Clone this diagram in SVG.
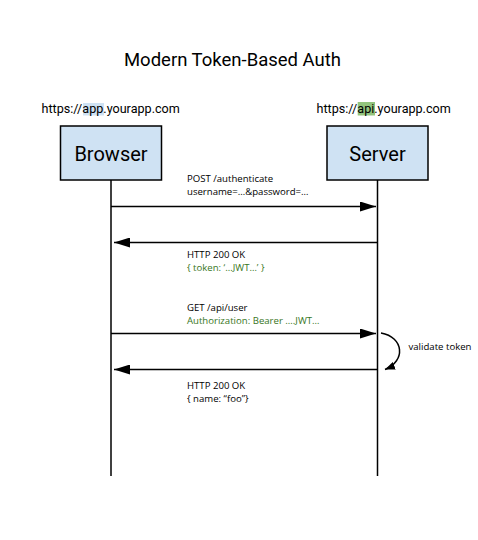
<svg xmlns="http://www.w3.org/2000/svg" width="478" height="540" viewBox="0 0 478 540">
<style>
.title{font-family:Roboto,"Liberation Sans",sans-serif;font-size:18.5px;fill:#000}
.url{font-family:Roboto,"Liberation Sans",sans-serif;font-size:12.6px;fill:#000}
.box{fill:#cfe2f3;stroke:#000;stroke-width:1.5}
.boxt{font-family:Roboto,"Liberation Sans",sans-serif;font-size:20px;fill:#000;text-anchor:middle}
.life{stroke:#000;stroke-width:1.5;fill:none}
.msg{stroke:#000;stroke-width:1.5;fill:none}
.lbl{font-family:"Open Sans","Liberation Sans",sans-serif;font-size:9.6px;fill:#000}
.grn{fill:#38761d}
</style>
<defs>
<marker id="ah" viewBox="0 0 16 10" refX="16" refY="5" markerWidth="16" markerHeight="10" markerUnits="userSpaceOnUse" orient="auto">
<path d="M0,0 L16,5 L0,10 Z" fill="#000"/>
</marker>
<marker id="ah2" viewBox="0 0 10 8" refX="10" refY="4" markerWidth="10" markerHeight="8" markerUnits="userSpaceOnUse" orient="auto">
<path d="M0,0 L10,4 L0,8 Z" fill="#000"/>
</marker>
</defs>
<rect width="478" height="540" fill="#fff"/>
<text class="title" x="232.5" y="66" text-anchor="middle">Modern Token-Based Auth</text>
<g id="browser">
<rect x="83" y="103" width="21" height="12.5" fill="#cfe2f3"/>
<text class="url" x="41.5" y="113">https://app.yourapp.com</text>
<rect class="box" x="60.5" y="126" width="101" height="54"/>
<text class="boxt" x="111" y="160.5">Browser</text>
</g>
<g id="server">
<rect x="357.7" y="102" width="17.3" height="13.5" fill="#93c47d"/>
<text class="url" x="316.5" y="113">https://api.yourapp.com</text>
<rect class="box" x="327" y="126" width="101" height="54"/>
<text class="boxt" x="377.5" y="160.5">Server</text>
</g>
<g id="connectors">
<line class="life" x1="111" y1="180" x2="111" y2="476"/>
<line class="life" x1="377.5" y1="180" x2="377.5" y2="476"/>
<line class="msg" x1="111" y1="206.5" x2="376" y2="206.5" marker-end="url(#ah)"/>
<line class="msg" x1="377.5" y1="242.5" x2="114" y2="242.5" marker-end="url(#ah)"/>
<line class="msg" x1="111" y1="333.5" x2="376" y2="333.5" marker-end="url(#ah)"/>
<line class="msg" x1="377.5" y1="369.5" x2="114" y2="369.5" marker-end="url(#ah)"/>
<path class="msg" d="M381,333 C404,337 406,361 385,369.5" marker-end="url(#ah2)"/>
</g>
<g id="labels">
<text class="lbl" x="187" y="182">POST /authenticate</text>
<text class="lbl" x="187" y="195">username=…&amp;password=…</text>
<text class="lbl" x="187" y="257.5">HTTP 200 OK</text>
<text class="lbl grn" x="187" y="270.5">{ token: ‘…JWT…’ }</text>
<text class="lbl" x="187" y="310.5">GET /api/user</text>
<text class="lbl grn" x="187" y="323.5">Authorization: Bearer ….JWT…</text>
<text class="lbl" x="187" y="389">HTTP 200 OK</text>
<text class="lbl" x="187" y="402">{ name: “foo”}</text>
<text class="lbl" x="408.5" y="350">validate token</text>
</g>
</svg>
